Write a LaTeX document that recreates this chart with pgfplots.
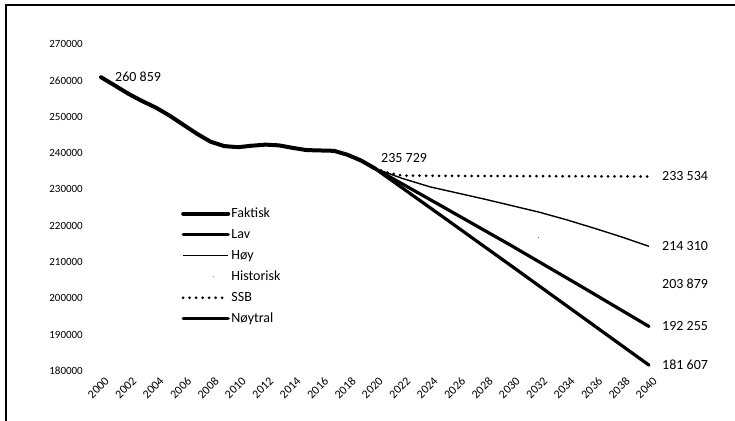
\documentclass[border=0pt]{standalone}
\usepackage{fontspec}
\setmainfont{Carlito}
\usepackage{pgfplots}
\pgfplotsset{compat=1.18}
\begin{document}
\begin{tikzpicture}
\useasboundingbox (0,0) rectangle (735bp,421bp);
\draw[line width=2bp] (6bp,0) -- (6bp,416bp) -- (735bp,416bp);
\begin{axis}[
  at={(101bp,50bp)}, anchor=south west,
  scale only axis, width=548bp, height=327bp,
  xmin=2000, xmax=2040, ymin=180000, ymax=270000,
  clip=false,
  scaled y ticks=false, scaled x ticks=false,
  axis line style={draw=none}, major tick style={draw=none},
  xtick={2000,2002,...,2040}, ytick={180000,190000,...,270000},
  xticklabels={2000,2002,2004,2006,2008,2010,2012,2014,2016,2018,2020,2022,2024,2026,2028,2030,2032,2034,2036,2038,2040},
  yticklabels={180000,190000,200000,210000,220000,230000,240000,250000,260000,270000},
  xticklabel style={rotate=45, anchor=north east, inner sep=0pt, xshift=-1.5bp, yshift=-6bp, font=\fontsize{12bp}{14bp}\selectfont},
  yticklabel style={anchor=east, inner sep=0pt, xshift=-18bp, font=\fontsize{11bp}{13bp}\selectfont},
  legend style={draw=none, fill=none, at={(0.146,0.505)}, anchor=north west,
    font=\fontsize{14bp}{16bp}\selectfont, row sep=5.6bp, inner sep=0pt,
    nodes={inner sep=1.2bp, text height=10bp, text depth=3bp}},
  legend cell align=left,
  legend image code/.code={\draw[#1] (0bp,0bp) -- (45bp,0bp);},
]
% Faktisk
\addplot[black, line width=4bp, line join=round, line cap=round] coordinates {
 (2000,260859) (2001,258600) (2002,256300) (2003,254300) (2004,252500)
 (2005,250300) (2006,247800) (2007,245300) (2008,243100) (2009,241900)
 (2010,241600) (2011,242000) (2012,242300) (2013,242100) (2014,241400)
 (2015,240800) (2016,240700) (2017,240600) (2018,239500) (2019,237900)
 (2020,235729)};
\addlegendentry{Faktisk}
% Lav
\addplot[black, line width=3.2bp, line cap=round] coordinates {
 (2020,235729) (2025,222300) (2030,208800) (2035,195200) (2040,181607)};
\addlegendentry{Lav}
% Høy
\addplot[black, line width=1.4bp] coordinates {
 (2020,235729) (2022,233000) (2024,230700) (2026,229000) (2028,227300)
 (2030,225500) (2032,223700) (2034,221600) (2036,219300) (2038,216900)
 (2040,214310)};
\addlegendentry{Høy}
% Historisk (nearly invisible)
\addplot[black!60, line width=0.9bp, dash pattern=on 0.9bp off 2000bp, dash phase=1824bp,
  legend image code/.code={\fill[black!50] (30bp,0bp) circle (0.6bp);}] coordinates {
 (2020,235729) (2040,203879)};
\addlegendentry{Historisk}
% SSB
\addplot[black, line width=3bp, line cap=round, dash pattern=on 0bp off 6.5bp] coordinates {
 (2020,235729) (2021,234500) (2022,233800) (2025,233700) (2030,233650)
 (2035,233600) (2040,233534)};
\addlegendentry{SSB}
% Nøytral
\addplot[black, line width=3.2bp, line cap=round] coordinates {
 (2020,235729) (2025,225100) (2030,214400) (2035,203400) (2040,192255)};
\addlegendentry{Nøytral}

\begin{scope}[every node/.style={font=\fontsize{14bp}{16bp}\selectfont, inner sep=0pt, anchor=west}]
\node[xshift=14bp] at (axis cs:2000,260859) {260 859};
\node[xshift=6bp, yshift=11bp] at (axis cs:2020,235729) {235 729};
\node[xshift=13bp] at (axis cs:2040,233534) {233 534};
\node[xshift=13bp] at (axis cs:2040,214310) {214 310};
\node[xshift=13bp] at (axis cs:2040,203879) {203 879};
\node[xshift=13bp] at (axis cs:2040,192255) {192 255};
\node[xshift=13bp] at (axis cs:2040,181607) {181 607};
\end{scope}
\end{axis}
\end{tikzpicture}
\end{document}
